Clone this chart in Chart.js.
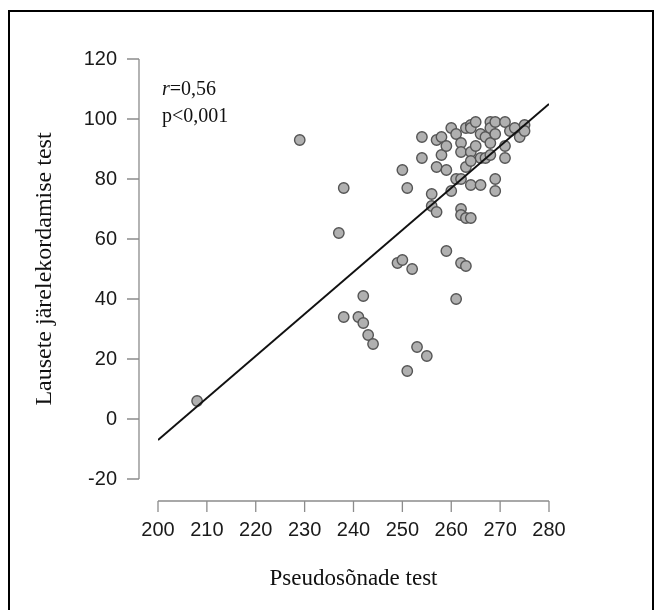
<!DOCTYPE html>
<html>
<head>
<meta charset="utf-8">
<script src="https://cdn.jsdelivr.net/npm/chart.js@4/dist/chart.umd.min.js"></script>
<style>
  html, body { margin: 0; padding: 0; background: #fff; }
  #wrap { width: 661px; height: 610px; position: relative; }
</style>
</head>
<body>
<div id="wrap"><canvas id="scatterChart"></canvas></div>
<script>
// scores, one entry per pupil
const pseudoScores = [
  208, 229, 238, 237, 238, 242, 241, 242, 243, 244,
  250, 251, 249, 250, 252, 251, 253, 255, 254, 254,
  256, 256, 257, 257, 258, 258, 257, 259, 259, 259,
  260, 260, 261, 261, 262, 262, 262, 262, 262, 262,
  263, 261, 263, 263, 263, 264, 264, 264, 264, 264,
  264, 265, 265, 266, 266, 266, 267, 267, 268, 268,
  268, 268, 269, 269, 269, 269, 271, 271, 271, 272,
  273, 274, 275, 275
];
const sentenceScores = [
  6, 93, 77, 62, 34, 41, 34, 32, 28, 25,
  83, 77, 52, 53, 50, 16, 24, 21, 94, 87,
  75, 71, 69, 93, 94, 88, 84, 91, 83, 56,
  97, 76, 95, 80, 80, 92, 89, 70, 68, 52,
  51, 40, 97, 84, 67, 67, 98, 97, 89, 86,
  78, 99, 91, 95, 87, 78, 87, 94, 99, 97,
  92, 88, 99, 95, 80, 76, 99, 91, 87, 96,
  97, 94, 98, 96
];

// regression line end points
const fitX = [200, 280];
const fitY = [-7, 105];

// axis ticks
const xTicks = [200, 210, 220, 230, 240, 250, 260, 270, 280];
const yTicks = [-20, 0, 20, 40, 60, 80, 100, 120];

const statLines = ['=0,56', 'p<0,001'];

const points = pseudoScores.map((x, i) => ({ x: x, y: sentenceScores[i] }));
const fitPoints = fitX.map((x, i) => ({ x: x, y: fitY[i] }));

// R-style detached axes, frame and the r / p note
const rAxes = {
  id: 'rAxes',
  beforeDraw(chart) {
    const ctx = chart.ctx;
    ctx.save();
    ctx.strokeStyle = '#000';
    ctx.lineWidth = 2;
    ctx.strokeRect(9, 11, 644, 604);
    ctx.restore();
  },
  beforeDatasetsDraw(chart) {
    const ctx = chart.ctx;
    const xs = chart.scales.x;
    const ys = chart.scales.y;
    const axisX = chart.chartArea.left - 19;
    const axisY = chart.chartArea.bottom + 22;
    ctx.save();
    ctx.strokeStyle = '#8c8c8c';
    ctx.lineWidth = 1.3;
    ctx.beginPath();
    // y axis
    ctx.moveTo(axisX, ys.getPixelForValue(yTicks[0]));
    ctx.lineTo(axisX, ys.getPixelForValue(yTicks[yTicks.length - 1]));
    yTicks.forEach(v => {
      const py = ys.getPixelForValue(v);
      ctx.moveTo(axisX, py);
      ctx.lineTo(axisX - 12, py);
    });
    // x axis
    ctx.moveTo(xs.getPixelForValue(xTicks[0]), axisY);
    ctx.lineTo(xs.getPixelForValue(xTicks[xTicks.length - 1]), axisY);
    xTicks.forEach(v => {
      const px = xs.getPixelForValue(v);
      ctx.moveTo(px, axisY);
      ctx.lineTo(px, axisY + 11);
    });
    ctx.stroke();

    // statistics text
    ctx.fillStyle = '#111';
    ctx.textBaseline = 'alphabetic';
    ctx.font = 'italic 20px "Liberation Serif", "Times New Roman", serif';
    ctx.fillText('r', 162, 95);
    const rw = ctx.measureText('r').width;
    ctx.font = '20px "Liberation Serif", "Times New Roman", serif';
    ctx.fillText(statLines[0], 162 + rw, 95);
    ctx.fillText(statLines[1], 162, 122);
    ctx.restore();
  }
};

new Chart('scatterChart', {
  type: 'scatter',
  data: {
    datasets: [{
      label: 'Pupils',
      data: points,
      pointRadius: 5.2,
      pointHoverRadius: 5.2,
      backgroundColor: '#b0b0b0',
      borderColor: '#555',
      borderWidth: 1.4,
      order: 2
    }, {
      type: 'line',
      label: 'Fit',
      data: fitPoints,
      borderColor: '#111',
      borderWidth: 2,
      pointRadius: 0,
      fill: false,
      tension: 0,
      order: 1
    }]
  },
  options: {
    responsive: true,
    maintainAspectRatio: false,
    animation: false,
    layout: {
      padding: { left: 10, right: 112, top: 59, bottom: 10 }
    },
    plugins: {
      legend: { display: false },
      tooltip: { enabled: false }
    },
    scales: {
      x: {
        type: 'linear',
        min: 200,
        max: 280,
        grid: { display: false, drawTicks: false },
        border: { display: false },
        afterFit: (scale) => { scale.height = 121; },
        afterBuildTicks: (scale) => { scale.ticks = xTicks.map(v => ({ value: v })); },
        ticks: {
          padding: 39,
          color: '#1a1a1a',
          font: { family: '"Liberation Sans", Arial, sans-serif', size: 20 }
        },
        title: {
          display: true,
          text: 'Pseudosõnade test',
          color: '#111',
          padding: { top: 0, bottom: 7 },
          font: { family: '"Liberation Serif", "Times New Roman", serif', size: 23 }
        }
      },
      y: {
        type: 'linear',
        min: -20,
        max: 120,
        grid: { display: false, drawTicks: false },
        border: { display: false },
        afterFit: (scale) => { scale.width = 148; },
        afterBuildTicks: (scale) => { scale.ticks = yTicks.map(v => ({ value: v })); },
        ticks: {
          padding: 41,
          color: '#1a1a1a',
          font: { family: '"Liberation Sans", Arial, sans-serif', size: 20 }
        },
        title: {
          display: true,
          text: 'Lausete järelekordamise test',
          color: '#111',
          padding: { top: 20, bottom: 0 },
          font: { family: '"Liberation Serif", "Times New Roman", serif', size: 24 }
        }
      }
    }
  },
  plugins: [rAxes]
});
</script>
</body>
</html>
